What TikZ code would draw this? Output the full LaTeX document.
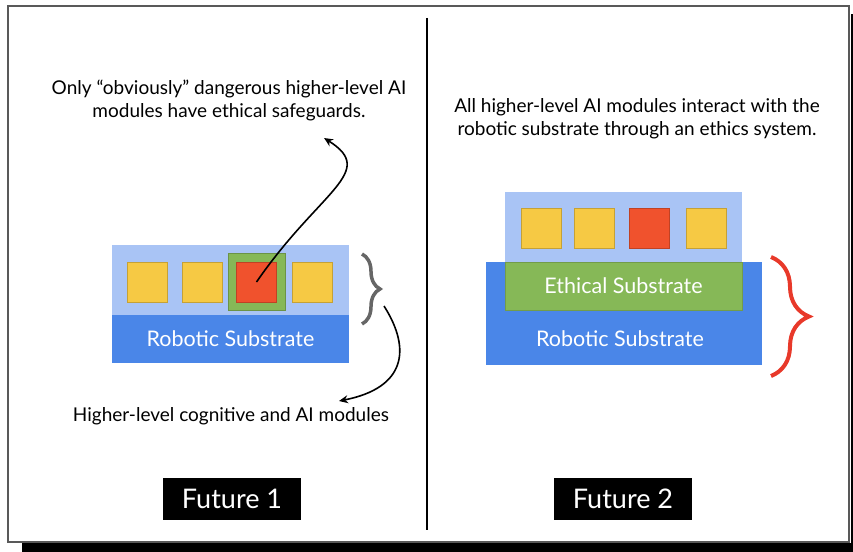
\documentclass[tikz,border=0pt]{standalone}
\usepackage{fontspec}
\setmainfont{Lato}
\usetikzlibrary{arrows.meta,decorations.pathreplacing}

\definecolor{paleblue}{HTML}{A9C4F5}
\definecolor{robotblue}{HTML}{4A86E8}
\definecolor{modyellow}{HTML}{F6C944}
\definecolor{modred}{HTML}{F0522D}
\definecolor{ethicgreen}{HTML}{86B857}
\definecolor{bracered}{HTML}{E8392A}

\tikzset{
  layer/.style={inner sep=0pt, text=white, font=\fontsize{21.5}{25}\selectfont},
  module/.style={draw=#1!80!black, fill=#1, minimum size=40pt, inner sep=0pt},
  note/.style={align=center, font=\fontsize{19}{23}\selectfont},
  futurebox/.style={fill=black, text=white, minimum width=138pt, minimum height=42pt, font=\fontsize{27}{30}\selectfont},
  curvy/.style={line width=1.6pt, -{Stealth[length=9pt,width=8pt]}},
}

\begin{document}
\begin{tikzpicture}[x=1pt, y=-1pt]
\useasboundingbox (0,0) rectangle (853,551);

% frame and divider
\fill[black] (22,543) rectangle (860,553);
\fill[black] (851,14) rectangle (860,553);
\draw[black!65, line width=1.2pt] (8,6) rectangle (849,542);
\draw[line width=1.8pt] (427,18) -- (427,530);

% Future 1
\node[layer, fill=paleblue, minimum width=237pt, minimum height=70pt] (pale1) at (230.5,280) {};
\node[layer, fill=robotblue, minimum width=237pt, minimum height=48pt] (robot1) at (230.5,339) {Robotic Substrate};
\node[module=modyellow] (m11) at (147.5,282) {};
\node[module=modyellow] (m12) at (202,282) {};
\node[module=ethicgreen, minimum size=57pt] (guard1) at (256.5,282) {};
\node[module=modred] (m13) at (256.5,282) {};
\node[module=modyellow] (m14) at (312,282) {};

\draw[black!60, line width=3.5pt, decorate, decoration={brace, amplitude=18pt}] (362,254) -- (362,324);
\coordinate (bracetail) at (384,306);

\node[note] (note1) at (229,100) {Only “obviously” dangerous higher-level AI\\modules have ethical safeguards.};
\node[note] (note2) at (231,416) {Higher-level cognitive and AI modules};
\coordinate (tip1) at (324,138);
\coordinate (tip2) at (339,401);

\draw[curvy] (m13.center) .. controls (320,190) and (378,172) .. (tip1);
\draw[curvy] (bracetail) .. controls (412,350) and (405,388) .. (tip2);

\node[futurebox] (fut1) at (232,499) {Future 1};

% Future 2
\node[layer, fill=paleblue, minimum width=237pt, minimum height=70pt] (pale2) at (623.5,227) {};
\node[layer, fill=robotblue, minimum width=276pt, minimum height=103pt] (robot2) at (624,313.5) {};
\node[layer] (robottext2) at (620,339) {Robotic Substrate};
\node[layer, draw=ethicgreen!85!black, fill=ethicgreen, minimum width=237pt, minimum height=48pt] (ethic2) at (623.5,286) {Ethical Substrate};
\node[module=modyellow] (m21) at (541,228.5) {};
\node[module=modyellow] (m22) at (594.5,228.5) {};
\node[module=modred] (m23) at (649,228.5) {};
\node[module=modyellow] (m24) at (706,228.5) {};

\draw[bracered, line width=4pt, decorate, decoration={brace, amplitude=38pt}] (771,257) -- (771,376);

\node[note] (note3) at (637,119) {All higher-level AI modules interact with the\\robotic substrate through an ethics system.};

\node[futurebox] (fut2) at (623,499) {Future 2};

\end{tikzpicture}
\end{document}
